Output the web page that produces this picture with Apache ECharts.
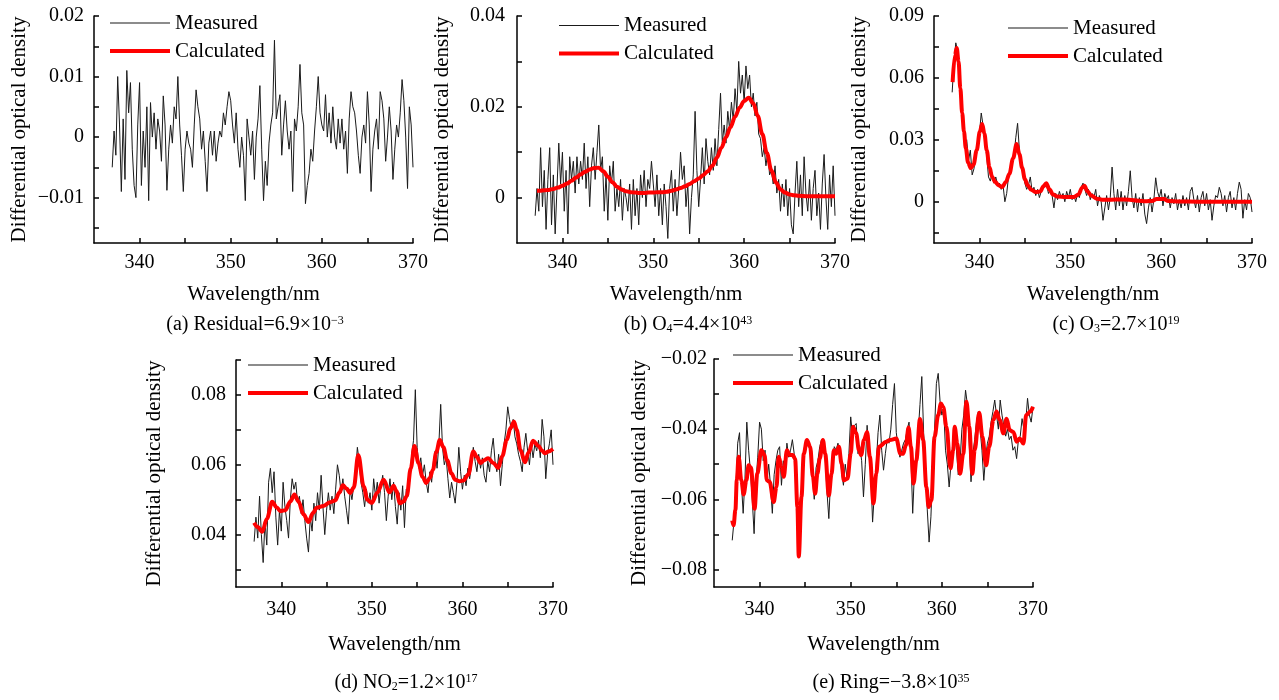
<!DOCTYPE html>
<html>
<head>
<meta charset="utf-8">
<script src="https://cdn.jsdelivr.net/npm/echarts@6/dist/echarts.min.js"></script>
<style>
html,body{margin:0;padding:0;background:#fff;}
#chart{width:1279px;height:700px;}
</style>
</head>
<body>
<div id="chart"></div>
<script>
// ---------------- DATA ----------------
// Measured spectra: sampled every 0.2 nm starting at 337.0 nm
const MEAS_START = 337.0;
const MEAS_STEP = 0.2;

const measuredA = [
-0.005,0.001,-0.003,0.010,0.002,-0.009,0.003,-0.007,0.011,0.004,
0.009,-0.002,-0.008,-0.010,0.002,0.009,-0.008,0.001,-0.005,0.005,
-0.0105,0.0057,0.000,0.004,-0.002,0.003,0.001,-0.004,0.0068,0.002,
-0.0088,-0.002,0.002,-0.001,0.005,0.003,0.010,0.002,-0.003,-0.009,
-0.002,0.001,-0.001,-0.002,-0.005,0.002,0.0078,0.005,0.003,-0.002,
0.001,-0.004,-0.009,-0.001,0.001,-0.003,0.001,-0.004,-0.001,0.001,
0.000,0.004,0.002,0.005,0.0075,0.006,0.002,-0.001,0.004,-0.002,
-0.005,0.000,-0.003,-0.0105,0.003,0.000,-0.003,0.001,-0.007,0.000,
0.003,0.0085,-0.002,-0.0105,-0.004,-0.008,-0.001,0.002,0.004,0.016,
0.003,0.005,0.007,-0.003,0.002,0.006,0.001,-0.002,0.001,-0.009,
0.003,0.001,0.005,0.012,0.004,0.002,-0.011,-0.008,-0.006,-0.002,
-0.004,0.001,0.005,0.010,0.004,0.002,0.001,0.007,0.000,0.004,
-0.001,0.005,0.000,-0.002,0.003,-0.001,0.003,-0.002,0.001,-0.006,
0.003,0.0075,0.005,0.004,0.001,-0.003,-0.006,0.000,0.002,-0.001,
0.0075,0.002,-0.009,-0.002,0.001,0.003,-0.002,0.0075,0.006,0.003,
-0.004,0.000,0.005,0.001,-0.007,-0.002,0.002,0.000,0.004,0.0095,
0.006,0.000,-0.0085,0.005,0.002,-0.005
];

const measuredB = [
-0.004,0.002,-0.003,0.011,-0.002,0.006,-0.007,0.004,0.011,-0.006,
0.005,-0.008,0.002,0.012,0.003,0.010,-0.003,0.006,-0.008,0.009,
0.004,0.008,0.001,0.009,0.003,0.008,0.004,0.012,0.002,0.009,
-0.002,0.007,0.011,0.004,0.010,0.016,0.006,0.009,-0.003,0.005,
-0.005,0.007,0.003,0.008,-0.003,0.002,-0.002,0.004,-0.005,0.002,
0.000,-0.003,0.003,-0.007,0.004,-0.004,0.002,-0.006,0.005,0.000,
0.006,-0.002,0.004,0.002,0.008,0.003,-0.002,0.005,-0.004,0.002,
-0.006,0.003,-0.002,-0.009,0.002,0.006,-0.003,0.004,-0.004,0.002,
0.010,0.004,0.007,-0.002,0.003,-0.008,0.000,0.005,0.019,0.006,
-0.002,0.004,0.011,0.003,0.013,0.008,0.005,0.011,0.006,0.013,
0.007,0.015,0.023,0.012,0.016,0.012,0.019,0.015,0.021,0.017,
0.024,0.019,0.030,0.023,0.027,0.021,0.029,0.024,0.027,0.020,
0.023,0.018,0.021,0.014,0.013,0.009,0.011,0.007,0.010,0.005,
0.006,0.003,0.007,0.001,0.004,-0.003,0.003,-0.002,0.004,-0.004,
0.002,-0.006,-0.008,0.001,0.008,-0.002,0.005,-0.004,0.009,0.001,
-0.003,0.004,-0.005,0.002,0.006,-0.004,0.001,-0.007,0.003,0.0095,
0.000,-0.007,0.005,-0.002,0.007,-0.004
];

const measuredC = [
0.053,0.068,0.077,0.073,0.060,0.045,0.038,0.028,0.030,0.020,
0.025,0.013,0.016,0.023,0.027,0.033,0.043,0.037,0.031,0.022,
0.012,0.010,0.014,0.009,0.012,0.008,0.009,0.006,0.008,0.000,
0.004,0.012,0.015,0.019,0.022,0.031,0.038,0.025,0.018,0.013,
0.009,0.006,0.008,0.012,0.005,0.007,0.003,0.006,0.002,0.005,
0.007,0.009,0.008,0.004,0.006,0.003,-0.003,0.004,0.001,0.005,
0.002,0.004,0.000,0.005,0.002,0.006,0.001,0.003,0.000,0.004,
0.002,0.007,0.009,0.006,0.003,0.006,0.001,0.004,0.002,0.006,
-0.002,0.003,0.000,-0.009,-0.003,0.003,-0.004,0.002,0.0168,0.004,
-0.004,0.006,-0.002,0.005,-0.004,0.003,-0.002,0.005,0.015,0.002,
-0.003,0.004,-0.005,0.002,-0.002,0.004,-0.006,-0.0106,-0.003,0.002,
-0.005,0.001,0.0116,0.005,0.002,0.006,-0.002,0.004,0.001,0.003,
-0.003,0.002,-0.001,0.004,-0.004,0.001,-0.003,0.003,-0.002,0.002,
-0.004,0.005,0.007,0.001,-0.003,0.003,-0.005,0.002,0.005,-0.002,
0.004,-0.004,0.001,-0.009,-0.002,0.003,0.002,0.007,0.004,-0.002,
0.003,-0.005,0.002,0.005,-0.003,0.002,-0.004,0.004,0.0095,0.006,
-0.008,0.001,-0.004,0.004,0.002,-0.005
];

const measuredD = [
0.038,0.045,0.039,0.051,0.040,0.032,0.044,0.037,0.055,0.059,
0.052,0.058,0.045,0.037,0.047,0.041,0.055,0.048,0.044,0.039,
0.050,0.056,0.053,0.055,0.049,0.051,0.046,0.050,0.044,0.039,
0.035,0.045,0.041,0.049,0.044,0.052,0.047,0.057,0.048,0.040,
0.047,0.052,0.047,0.051,0.046,0.053,0.060,0.057,0.052,0.056,
0.051,0.047,0.043,0.053,0.050,0.054,0.058,0.065,0.061,0.055,
0.052,0.048,0.053,0.049,0.052,0.047,0.056,0.051,0.055,0.049,
0.054,0.057,0.052,0.044,0.051,0.056,0.050,0.055,0.048,0.043,
0.052,0.047,0.054,0.042,0.053,0.051,0.056,0.063,0.067,0.0815,
0.065,0.059,0.062,0.057,0.060,0.055,0.052,0.058,0.055,0.061,
0.064,0.059,0.066,0.0773,0.065,0.060,0.062,0.056,0.0505,0.055,
0.052,0.049,0.055,0.065,0.058,0.053,0.057,0.054,0.059,0.056,
0.060,0.065,0.061,0.058,0.063,0.059,0.062,0.057,0.055,0.061,
0.058,0.064,0.0676,0.061,0.058,0.063,0.054,0.060,0.066,0.070,
0.0766,0.073,0.070,0.073,0.068,0.066,0.063,0.061,0.058,0.065,
0.069,0.064,0.060,0.066,0.062,0.066,0.064,0.067,0.062,0.073,
0.068,0.056,0.063,0.066,0.070,0.060
];

const measuredE = [
-0.0717,-0.066,-0.057,-0.044,-0.041,-0.055,-0.064,-0.054,-0.038,-0.046,
-0.052,-0.060,-0.0698,-0.055,-0.048,-0.038,-0.040,-0.049,-0.046,-0.055,
-0.050,-0.056,-0.064,-0.053,-0.049,-0.046,-0.045,-0.056,-0.049,-0.052,
-0.044,-0.048,-0.046,-0.043,-0.047,-0.056,-0.071,-0.0765,-0.058,-0.047,
-0.044,-0.043,-0.045,-0.046,-0.054,-0.060,-0.051,-0.049,-0.045,-0.043,
-0.044,-0.048,-0.058,-0.0655,-0.054,-0.049,-0.045,-0.046,-0.044,-0.047,
-0.052,-0.056,-0.050,-0.054,-0.047,-0.0365,-0.042,-0.039,-0.0384,-0.047,
-0.045,-0.049,-0.0593,-0.050,-0.0389,-0.047,-0.052,-0.0665,-0.058,-0.050,
-0.041,-0.036,-0.046,-0.0517,-0.047,-0.043,-0.044,-0.040,-0.033,-0.027,
-0.041,-0.045,-0.048,-0.046,-0.044,-0.043,-0.040,-0.038,-0.047,-0.064,
-0.052,-0.046,-0.041,-0.033,-0.025,-0.041,-0.051,-0.063,-0.0722,-0.065,
-0.051,-0.040,-0.027,-0.0241,-0.032,-0.036,-0.034,-0.046,-0.050,-0.0565,
-0.050,-0.044,-0.040,-0.046,-0.053,-0.049,-0.040,-0.036,-0.0289,-0.033,
-0.044,-0.055,-0.047,-0.043,-0.038,-0.035,-0.040,-0.046,-0.0546,-0.048,
-0.044,-0.042,-0.038,-0.035,-0.0317,-0.036,-0.040,-0.0317,-0.036,-0.039,
-0.042,-0.040,-0.043,-0.042,-0.046,-0.045,-0.0484,-0.043,-0.042,-0.037,
-0.040,-0.038,-0.0312,-0.036,-0.038,-0.0336
];

// Calculated (fitted) spectra: wavelength / value pairs
const calcBWl = [337.2,337.5,338,338.5,339,339.5,340,340.5,341,341.5,342,342.5,343,343.5,344,344.5,345,345.5,346,346.5,347,347.5,348,348.5,349,349.5,350,350.5,351,351.5,352,352.5,353,353.5,354,354.5,355,355.5,356,356.5,357,357.5,358,358.5,359,359.5,360,360.5,361,361.5,362,362.5,363,363.5,364,364.5,365,365.5,366,367,368,369,370];
const calcBVal = [0.0015,0.0015,0.0016,0.0017,0.0019,0.0022,0.0026,0.0031,0.0037,0.0044,0.0051,0.0057,0.0062,0.0065,0.0066,0.0058,0.0046,0.0034,0.0024,0.0018,0.0014,0.0012,0.0011,0.0010,0.0010,0.0011,0.0011,0.0012,0.0012,0.0013,0.0015,0.0018,0.0021,0.0025,0.0030,0.0036,0.0042,0.0050,0.0058,0.0070,0.0088,0.0110,0.0133,0.0155,0.0178,0.0198,0.0213,0.0220,0.0208,0.0180,0.0140,0.0098,0.0060,0.0033,0.0018,0.0011,0.0007,0.0005,0.0004,0.0003,0.0003,0.0003,0.0003];

const calcCWl = [337.05,337.3,337.5,337.7,337.9,338.1,338.3,338.5,338.75,339.05,339.35,339.7,340.05,340.3,340.55,340.8,341.1,341.4,341.75,342.1,342.5,342.9,343.3,343.7,344.1,344.4,344.7,345.0,345.3,345.7,346.2,346.7,347.05,347.35,347.7,348.1,348.6,349.5,350.4,350.9,351.3,351.55,351.9,352.3,352.9,353.5,354.5,355.5,356.5,357.5,358.3,359.0,359.5,360.3,360.8,362,364,366,368,370];
const calcCVal = [0.058,0.071,0.0745,0.068,0.055,0.043,0.034,0.026,0.019,0.0163,0.018,0.025,0.034,0.0377,0.033,0.025,0.0168,0.012,0.0095,0.008,0.0071,0.0095,0.0135,0.021,0.028,0.023,0.0165,0.011,0.008,0.0058,0.0047,0.0050,0.0075,0.009,0.006,0.0035,0.0025,0.0023,0.0023,0.0035,0.0068,0.0077,0.005,0.003,0.0015,0.001,0.001,0.0011,0.001,0.0005,0.0002,0.0004,0.0013,0.0013,0.0003,0.0001,0.0,0.0,0.0,0.0];

const calcDWl = [337.0,337.4,337.9,338.4,339.0,339.5,339.9,340.45,341.0,341.45,341.9,342.45,343.0,343.5,343.9,344.65,345.4,345.95,346.4,346.8,347.2,347.6,348.0,348.5,349.1,349.5,350.0,350.6,351.3,351.95,352.4,352.7,353.1,353.5,353.85,354.3,354.7,355.15,355.6,356.0,356.4,356.75,357.1,357.5,357.9,358.3,358.8,359.2,359.7,360.1,360.65,361.2,361.6,362.0,362.4,362.85,363.4,363.95,364.4,364.9,365.3,365.7,366.0,366.4,366.9,367.3,367.8,368.4,368.8,369.1,369.5,370.0];
const calcDVal = [0.0434,0.0422,0.0408,0.0445,0.0494,0.0478,0.0467,0.047,0.0495,0.0515,0.0495,0.0458,0.0436,0.0462,0.0477,0.0482,0.0493,0.0498,0.052,0.0541,0.0532,0.0519,0.0535,0.0628,0.0538,0.050,0.0491,0.052,0.0557,0.0521,0.054,0.0525,0.049,0.0495,0.051,0.059,0.0654,0.0605,0.0565,0.0548,0.0562,0.0586,0.0635,0.0671,0.0650,0.0614,0.0575,0.0557,0.0553,0.0555,0.0572,0.0638,0.0622,0.0605,0.0613,0.0619,0.0605,0.0591,0.0625,0.0671,0.0705,0.0723,0.070,0.0643,0.0607,0.0635,0.0669,0.0654,0.064,0.0633,0.0638,0.0645];

const calcEWl = [337.0,337.15,337.35,337.5,337.7,338.0,338.25,338.55,338.8,339.05,339.45,339.75,340.2,340.55,340.8,341.1,341.55,341.85,342.1,342.4,342.65,343.0,343.3,343.65,343.9,344.15,344.3,344.6,344.85,345.2,345.55,345.85,346.1,346.35,346.6,346.95,347.2,347.6,347.9,348.15,348.4,348.7,349.0,349.25,349.65,350.0,350.25,350.6,350.9,351.15,351.45,351.8,352.1,352.5,352.8,353.1,353.9,354.3,355.0,355.45,355.75,356.05,356.35,356.6,356.9,357.2,357.6,357.95,358.3,358.55,358.85,359.2,359.6,359.9,360.15,360.5,360.95,361.25,361.4,361.7,362.0,362.35,362.7,363.0,363.35,363.6,364.1,364.45,364.85,365.2,365.65,366.0,366.35,366.75,367.1,367.45,367.85,368.2,368.55,368.95,369.25,369.7,370.0];
const calcEVal = [-0.066,-0.0674,-0.063,-0.0546,-0.0479,-0.0546,-0.0586,-0.0546,-0.0503,-0.051,-0.0627,-0.0527,-0.046,-0.0474,-0.0546,-0.055,-0.0608,-0.0565,-0.0479,-0.0508,-0.0536,-0.046,-0.0474,-0.0474,-0.0485,-0.0622,-0.0763,-0.0593,-0.047,-0.0431,-0.045,-0.0536,-0.0584,-0.0527,-0.0484,-0.0431,-0.047,-0.0589,-0.0527,-0.046,-0.047,-0.045,-0.0498,-0.0546,-0.0541,-0.047,-0.0393,-0.0412,-0.046,-0.0474,-0.0431,-0.0408,-0.0479,-0.0612,-0.0527,-0.045,-0.0436,-0.0431,-0.0427,-0.047,-0.047,-0.0446,-0.0395,-0.045,-0.0555,-0.0489,-0.0371,-0.0431,-0.0565,-0.0622,-0.0603,-0.0422,-0.036,-0.0327,-0.0337,-0.0393,-0.0512,-0.046,-0.0393,-0.0441,-0.0527,-0.047,-0.0322,-0.0393,-0.0527,-0.046,-0.0353,-0.0422,-0.0503,-0.045,-0.0374,-0.035,-0.0374,-0.0412,-0.037,-0.0403,-0.0408,-0.0436,-0.0427,-0.0441,-0.036,-0.035,-0.0336];

// Axis ranges and ticks
const xTicks = [340,345,350,355,360,365,370];
const xLabels = [340,350,360,370];
const yTicksA = [-0.015,-0.01,-0.005,0,0.005,0.01,0.015,0.02];
const yLabelsA = [-0.01,0,0.01,0.02];
const yTicksB = [0,0.01,0.02,0.03,0.04];
const yLabelsB = [0,0.02,0.04];
const yTicksC = [-0.015,0,0.015,0.03,0.045,0.06,0.075,0.09];
const yLabelsC = [0,0.03,0.06,0.09];
const yTicksD = [0.03,0.04,0.05,0.06,0.07,0.08,0.09];
const yLabelsD = [0.04,0.06,0.08];
const yTicksE = [-0.08,-0.07,-0.06,-0.05,-0.04,-0.03,-0.02];
const yLabelsE = [-0.08,-0.06,-0.04,-0.02];

const legendNames = ['Measured','Calculated'];
const xName = 'Wavelength/nm';
const yName = 'Differential optical density';

// ---------------- CHART ----------------
const FONT = 'Liberation Serif';
const measPairs = arr => arr.map((v,i)=>[+(MEAS_START + MEAS_STEP*i).toFixed(2), v]);
const calcPairs = (wl, val) => { const n=Math.min(wl.length,val.length); const out=[]; for(let i=0;i<n;i++) out.push([wl[i],val[i]]); return out; };
const fmtY = v => { if (Math.abs(v) < 1e-12) return '0'; return (v<0?'\u2212':'') + Math.abs(v).toFixed(2); };

const panels = [
  {grid:{left:94,top:16,width:319,height:227}, ymin:-0.0175, ymax:0.02, yt:yTicksA, yl:yLabelsA, meas:measuredA, calc:null,
   legend:{left:108,top:12.5}, xLabelMargin:10, xNameGap:41, yNameGap:64, yLabelMargin:10},
  {grid:{left:517,top:16,width:318,height:227}, ymin:-0.01, ymax:0.04, yt:yTicksB, yl:yLabelsB, meas:measuredB, calc:calcPairs(calcBWl,calcBVal),
   legend:{left:557,top:15}, xLabelMargin:10, xNameGap:41, yNameGap:64, yLabelMargin:12},
  {grid:{left:934,top:16,width:318,height:227}, ymin:-0.02, ymax:0.09, yt:yTicksC, yl:yLabelsC, meas:measuredC, calc:calcPairs(calcCWl,calcCVal),
   legend:{left:1006,top:17.5}, xLabelMargin:10, xNameGap:41, yNameGap:64, yLabelMargin:10},
  {grid:{left:236,top:360,width:317,height:227}, ymin:0.025, ymax:0.09, yt:yTicksD, yl:yLabelsD, meas:measuredD, calc:calcPairs(calcDWl,calcDVal),
   legend:{left:246,top:354.5}, xLabelMargin:13, xNameGap:47, yNameGap:71, yLabelMargin:10},
  {grid:{left:714,top:359,width:319,height:228}, ymin:-0.085, ymax:-0.02, yt:yTicksE, yl:yLabelsE, meas:measuredE, calc:calcPairs(calcEWl,calcEVal),
   legend:{left:731,top:344.5}, xLabelMargin:13, xNameGap:47, yNameGap:64, yLabelMargin:7}
];

const axisColor = '#000';
const option = {
  animation:false,
  backgroundColor:'#fff',
  grid:[], xAxis:[], yAxis:[], series:[], legend:[],
  graphic:[]
};

panels.forEach((p,i)=>{
  option.grid.push(Object.assign({outerBoundsMode:'none', containLabel:false}, p.grid));
  option.xAxis.push({
    gridIndex:i, type:'value', min:335, max:370,
    axisLine:{show:true, onZero:false, lineStyle:{color:axisColor,width:1.5}},
    axisTick:{show:true, inside:true, length:5, customValues:xTicks, lineStyle:{color:axisColor,width:1.5}},
    axisLabel:{show:true, customValues:xLabels, color:'#000', fontFamily:FONT, fontSize:20, margin:p.xLabelMargin},
    splitLine:{show:false},
    name:xName, nameLocation:'middle', nameGap:p.xNameGap,
    nameTextStyle:{color:'#000', fontFamily:FONT, fontSize:21}
  });
  option.yAxis.push({
    gridIndex:i, type:'value', min:p.ymin, max:p.ymax,
    axisLine:{show:true, onZero:false, lineStyle:{color:axisColor,width:1.5}},
    axisTick:{show:true, inside:true, length:5, customValues:p.yt, lineStyle:{color:axisColor,width:1.5}},
    axisLabel:{show:true, customValues:p.yl, formatter:fmtY, color:'#000', fontFamily:FONT, fontSize:20, margin:p.yLabelMargin},
    splitLine:{show:false},
    name:yName, nameLocation:'middle', nameGap:p.yNameGap,
    nameTextStyle:{color:'#000', fontFamily:FONT, fontSize:21}
  });
  option.series.push({
    type:'line', name:'Measured', xAxisIndex:i, yAxisIndex:i,
    data:measPairs(p.meas), showSymbol:false, symbol:'none',
    lineStyle:{color:'#1a1a1a', width:1}, itemStyle:{color:'#1a1a1a'}, z:2
  });
  if (p.calc) {
    option.series.push({
      type:'line', name:'Calculated', xAxisIndex:i, yAxisIndex:i,
      data:p.calc, showSymbol:false, symbol:'none', smooth:0.35, smoothMonotone:'x',
      lineStyle:{color:'#ff0000', width:4}, itemStyle:{color:'#ff0000'}, z:3
    });
  }
  option.legend.push({
    data:[
      {name:legendNames[0], lineStyle:{width:1.2, color:'#1a1a1a'}},
      {name:legendNames[1], lineStyle:{width:4, color:'#ff0000'}}
    ],
    left:p.legend.left, top:p.legend.top, orient:'vertical', align:'left',
    itemWidth:60, itemHeight:14, itemGap:7, padding:0, selectedMode:false,
    itemStyle:{opacity:0, borderWidth:0},
    textStyle:{color:'#000', fontFamily:FONT, fontSize:21, lineHeight:20}
  });
});

const capStyle = {fill:'#000', fontFamily:FONT, fontSize:20, align:'center', verticalAlign:'middle',
  rich:{ sup:{fontFamily:FONT, fontSize:12, verticalAlign:'top', fill:'#000'},
         sub:{fontFamily:FONT, fontSize:12, verticalAlign:'bottom', fill:'#000'} }};
const captions = [
  {x:255, y:325, text:'(a) Residual=6.9\u00d710{sup|\u22123}'},
  {x:688, y:325, text:'(b) O{sub|4}=4.4\u00d710{sup|43}'},
  {x:1116, y:325, text:'(c) O{sub|3}=2.7\u00d710{sup|19}'},
  {x:406, y:683, text:'(d) NO{sub|2}=1.2\u00d710{sup|17}'},
  {x:891, y:683, text:'(e) Ring=\u22123.8\u00d710{sup|35}'}
];
captions.forEach(c=>{
  option.graphic.push({type:'text', x:c.x, y:c.y, silent:true,
    style:Object.assign({}, capStyle, {text:c.text})});
});

const chart = echarts.init(document.getElementById('chart'), null, {renderer:'canvas'});
chart.setOption(option);
</script>
</body>
</html>
